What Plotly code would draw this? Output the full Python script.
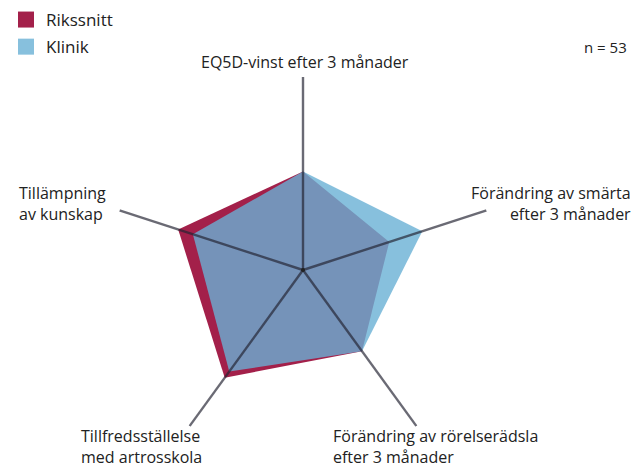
import plotly.graph_objects as go

# axes of the radar, clockwise from the top
kategorier = ["EQ5D", "Smärta", "Rörelserädsla", "Tillfredsställelse", "Tillämpning"]
etiketter = [
    "EQ5D-vinst efter 3 månader",
    "Förändring av smärta<br>efter 3 månader",
    "Förändring av rörelserädsla<br>efter 3 månader",
    "Tillfredsställelse<br>med artrosskola",
    "Tillämpning<br>av kunskap",
]
# values as share (%) of the axis length
rikssnitt = [51, 47, 52, 69, 68]
klinik = [51, 65, 52, 65, 60]
axel_max = 100
antal = "n = 53"

RED = "#a3204a"
BLUE = "#87c0dd"
FONT = "Open Sans"

fig = go.Figure()

# filled areas
fig.add_trace(go.Scatterpolar(
    r=rikssnitt + rikssnitt[:1], theta=kategorier + kategorier[:1],
    fill="toself", fillcolor=RED, mode="lines", line=dict(width=0, color=RED),
    showlegend=False, hoverinfo="skip"))
fig.add_trace(go.Scatterpolar(
    r=klinik + klinik[:1], theta=kategorier + kategorier[:1],
    fill="toself", fillcolor="rgba(105,176,212,0.8)", mode="lines",
    line=dict(width=0, color=BLUE), showlegend=False, hoverinfo="skip"))

# spokes drawn on top of the fills
for k in kategorier:
    fig.add_trace(go.Scatterpolar(
        r=[0, axel_max], theta=[k, k], mode="lines",
        line=dict(color="rgba(35,35,50,0.68)", width=2.4),
        showlegend=False, hoverinfo="skip"))
fig.add_trace(go.Scatterpolar(
    r=[0], theta=[kategorier[0]], mode="markers",
    marker=dict(color="#222", size=4), showlegend=False, hoverinfo="skip"))

# legend entries as squares
for namn, farg in [("Rikssnitt", RED), ("Klinik", BLUE)]:
    fig.add_trace(go.Scatterpolar(
        r=[None], theta=[kategorier[0]], mode="markers", name=namn,
        legendgroup=namn,
        marker=dict(symbol="square", size=16, color=farg)))

W, H = 634, 470
cx, cy, rad = 303, 270, 193

fig.update_layout(
    width=W, height=H,
    margin=dict(l=0, r=0, t=0, b=0),
    paper_bgcolor="white", plot_bgcolor="white",
    font=dict(family=FONT, size=16, color="#222"),
    polar=dict(
        domain=dict(x=[(cx - rad) / W, (cx + rad) / W],
                    y=[(H - cy - rad) / H, (H - cy + rad) / H]),
        bgcolor="rgba(0,0,0,0)",
        radialaxis=dict(range=[0, axel_max], visible=False, showgrid=False),
        angularaxis=dict(rotation=90, direction="clockwise", showgrid=False,
                         showline=False, showticklabels=False, ticks=""),
    ),
    legend=dict(x=6 / W, y=1 - 2 / H, xanchor="left", yanchor="top",
                bgcolor="rgba(0,0,0,0)", font=dict(size=17, color="#222"),
                tracegroupgap=2, itemwidth=30),
)

# axis labels placed as in the original
pos = [
    (305, 62, "center", "middle"),
    (633, 204, "right", "middle"),
    (331, 446, "left", "middle"),
    (79, 446, "left", "middle"),
    (17, 203, "left", "middle"),
]
for txt, (x, y, xa, ya) in zip(etiketter, pos):
    fig.add_annotation(x=x / W, y=1 - y / H, xref="paper", yref="paper",
                       text=txt, showarrow=False, xanchor=xa, yanchor=ya,
                       align=xa if xa != "center" else "center")
fig.add_annotation(x=629 / W, y=1 - 47 / H, xref="paper", yref="paper",
                   text=antal, showarrow=False, xanchor="right", yanchor="middle",
                   font=dict(size=15))

fig.write_html("out.html", config={"displayModeBar": False},
               post_script="document.body.style.margin='0';")
